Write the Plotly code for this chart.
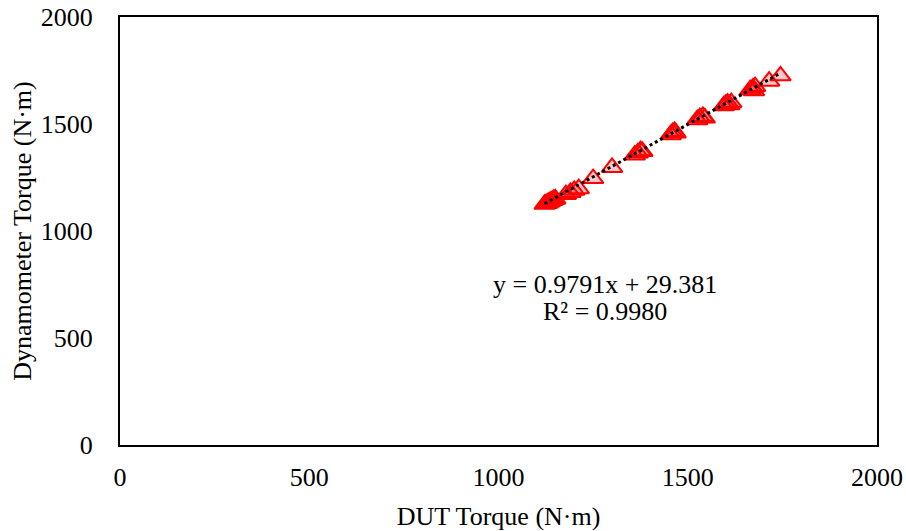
import plotly.graph_objects as go

# DUT torque (x) and dynamometer torque (y), N·m
dut_torque = [1122, 1126, 1130, 1134, 1138, 1142, 1146, 1150,
              1178, 1190, 1200, 1212,
              1250, 1300,
              1360, 1368, 1375, 1380,
              1455, 1460, 1465, 1468,
              1525, 1532, 1540, 1545,
              1595, 1600, 1605, 1610, 1615,
              1665, 1672, 1678, 1675,
              1715, 1745]
dyno_torque = [1125, 1128, 1131, 1136, 1140, 1143, 1148, 1150,
               1170, 1180, 1190, 1198,
               1245, 1297,
               1355, 1365, 1375, 1372,
               1450, 1460, 1465, 1458,
               1520, 1530, 1535, 1528,
               1585, 1592, 1598, 1590, 1600,
               1660, 1668, 1675, 1655,
               1700, 1725]

slope = 0.9791
intercept = 29.381
r_squared = 0.9980

x_ticks = [0, 500, 1000, 1500, 2000]
y_ticks = [0, 500, 1000, 1500, 2000]

font_family = "Liberation Serif"

fig = go.Figure()

fig.add_trace(go.Scatter(
    x=dut_torque, y=dyno_torque, mode="markers",
    marker=dict(symbol="triangle-up", size=18,
                color="rgba(255,0,0,0.22)",
                line=dict(color="red", width=2)),
    showlegend=False, hoverinfo="skip"))

x_min, x_max = min(dut_torque), max(dut_torque)
fig.add_trace(go.Scatter(
    x=[x_min, x_max], y=[slope * x_min + intercept, slope * x_max + intercept],
    mode="lines", line=dict(color="black", width=3, dash="dot"),
    showlegend=False, hoverinfo="skip"))

fig.add_annotation(x=1281, y=748, xref="x", yref="y",
                   text=f"y = {slope:.4f}x + {intercept:.3f}", showarrow=False,
                   font=dict(size=26, color="black", family=font_family))
fig.add_annotation(x=1281, y=626, xref="x", yref="y",
                   text=f"R² = {r_squared:.4f}", showarrow=False,
                   font=dict(size=26, color="black", family=font_family))

axis_common = dict(showline=True, mirror=True, linecolor="black", linewidth=2,
                   showgrid=False, zeroline=False, ticks="", automargin=False,
                   tickfont=dict(size=26, color="black", family=font_family))

fig.update_xaxes(range=[0, 2000], tickvals=x_ticks, ticklabelstandoff=8,
                 title=dict(text="DUT Torque (N·m)", standoff=21,
                            font=dict(size=26, color="black", family=font_family)),
                 **axis_common)
fig.update_yaxes(range=[0, 2000], tickvals=y_ticks, ticklabelstandoff=20,
                 title=dict(text="Dynamometer Torque (N·m)", standoff=2,
                            font=dict(size=26, color="black", family=font_family)),
                 **axis_common)

fig.update_layout(width=906, height=531,
                  margin=dict(l=120, r=29, t=17, b=86),
                  plot_bgcolor="white", paper_bgcolor="white",
                  font=dict(family=font_family, color="black"))

fig.write_html("out.html",
               config={"displayModeBar": False, "staticPlot": True},
               post_script="document.body.style.margin='0';"
                           "document.body.style.overflow='hidden';")
